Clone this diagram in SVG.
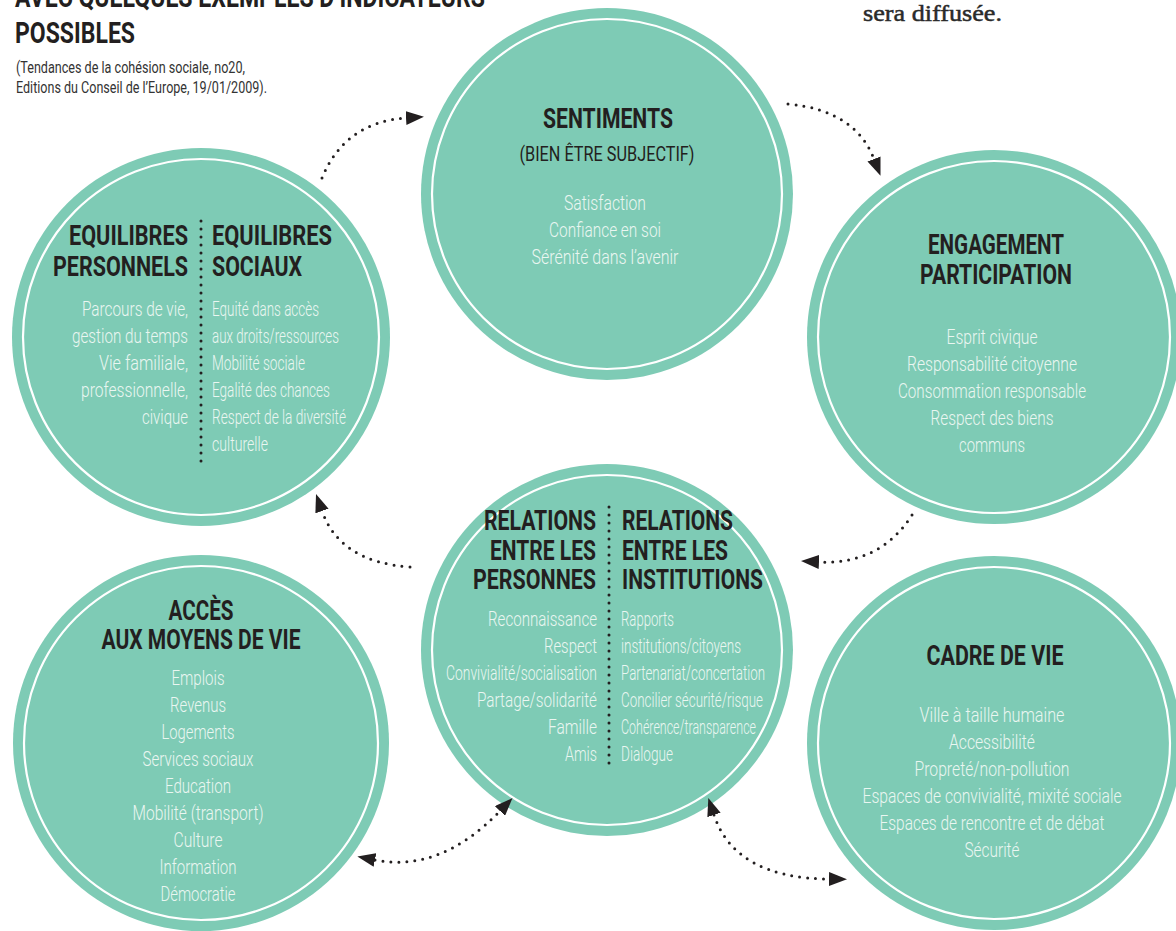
<svg xmlns="http://www.w3.org/2000/svg" width="1176" height="931" viewBox="0 0 1176 931">
<style>
.c{fill:#7ECBB5}
.ring{fill:none;stroke:#FFFFFF;stroke-width:2.2}
.t{font-family:Roboto,"Liberation Sans",sans-serif;font-weight:700;font-size:28px;fill:#231F20}
.s{font-family:Roboto,"Liberation Sans",sans-serif;font-weight:400;font-size:20px;fill:#231F20}
.b{font-family:Roboto,"Liberation Sans",sans-serif;font-weight:300;font-size:20px;fill:#EAF6F1}
.h{font-family:Roboto,"Liberation Sans",sans-serif;font-weight:700;font-size:30px;fill:#231F20}
.ref{font-family:Roboto,"Liberation Sans",sans-serif;font-weight:400;font-size:16px;fill:#333333}
.serif{font-family:"Liberation Serif",serif;font-size:24px;fill:#2A2A2A;stroke:#2A2A2A;stroke-width:0.5}
.dots{fill:none;stroke:#231F20;stroke-width:3;stroke-linecap:round;stroke-dasharray:0 8}
.m{text-anchor:middle}
.e{text-anchor:end}
</style>
<defs>
<marker id="ah" viewBox="0 0 18 14" refX="0" refY="7" markerWidth="18" markerHeight="14" markerUnits="userSpaceOnUse" orient="auto-start-reverse">
<path d="M0,0 L18,7 L0,14 Z" fill="#231F20"/>
</marker>
</defs>

<g id="header">
<text class="h" x="15" y="7" textLength="470" lengthAdjust="spacingAndGlyphs">AVEC QUELQUES EXEMPLES D’INDICATEURS</text>
<text class="h" x="15" y="43" textLength="120" lengthAdjust="spacingAndGlyphs">POSSIBLES</text>
<text class="ref" x="16" y="73" textLength="229" lengthAdjust="spacingAndGlyphs">(Tendances de la cohésion sociale, no20,</text>
<text class="ref" x="16" y="93" textLength="251" lengthAdjust="spacingAndGlyphs">Editions du Conseil de l’Europe, 19/01/2009).</text>
<text class="serif" x="863" y="21" textLength="139" lengthAdjust="spacingAndGlyphs">sera diffusée.</text>
</g>

<g id="node-sentiments">
<circle class="c" cx="607" cy="194" r="186"/>
<circle class="ring" cx="607" cy="194" r="175"/>
<text class="t m" x="608" y="128" textLength="130" lengthAdjust="spacingAndGlyphs">SENTIMENTS</text>
<text class="s m" x="607" y="161" textLength="175" lengthAdjust="spacingAndGlyphs">(BIEN ÊTRE SUBJECTIF)</text>
<text class="b m" x="605" y="210" textLength="82" lengthAdjust="spacingAndGlyphs">Satisfaction</text>
<text class="b m" x="605" y="237" textLength="112" lengthAdjust="spacingAndGlyphs">Confiance en soi</text>
<text class="b m" x="605" y="264" textLength="147" lengthAdjust="spacingAndGlyphs">Sérénité dans l’avenir</text>
</g>

<g id="node-equilibres">
<circle class="c" cx="201" cy="337" r="189"/>
<circle class="ring" cx="201" cy="337" r="178"/>
<line class="dots" x1="201" y1="221" x2="201" y2="463"/>
<text class="t e" x="188" y="245" textLength="119" lengthAdjust="spacingAndGlyphs">EQUILIBRES</text>
<text class="t e" x="188" y="276" textLength="135" lengthAdjust="spacingAndGlyphs">PERSONNELS</text>
<text class="t" x="212" y="245" textLength="120" lengthAdjust="spacingAndGlyphs">EQUILIBRES</text>
<text class="t" x="212" y="276" textLength="90" lengthAdjust="spacingAndGlyphs">SOCIAUX</text>
<text class="b e" x="188" y="316" textLength="106" lengthAdjust="spacingAndGlyphs">Parcours de vie,</text>
<text class="b e" x="188" y="343" textLength="116" lengthAdjust="spacingAndGlyphs">gestion du temps</text>
<text class="b e" x="188" y="370" textLength="89" lengthAdjust="spacingAndGlyphs">Vie familiale,</text>
<text class="b e" x="188" y="397" textLength="107" lengthAdjust="spacingAndGlyphs">professionnelle,</text>
<text class="b e" x="188" y="424" textLength="46" lengthAdjust="spacingAndGlyphs">civique</text>
<text class="b" x="212" y="316" textLength="107" lengthAdjust="spacingAndGlyphs">Equité dans accès</text>
<text class="b" x="212" y="343" textLength="127" lengthAdjust="spacingAndGlyphs">aux droits/ressources</text>
<text class="b" x="212" y="370" textLength="93" lengthAdjust="spacingAndGlyphs">Mobilité sociale</text>
<text class="b" x="212" y="397" textLength="118" lengthAdjust="spacingAndGlyphs">Egalité des chances</text>
<text class="b" x="212" y="424" textLength="134" lengthAdjust="spacingAndGlyphs">Respect de la diversité</text>
<text class="b" x="212" y="451" textLength="56" lengthAdjust="spacingAndGlyphs">culturelle</text>
</g>

<g id="node-engagement">
<circle class="c" cx="994" cy="337" r="187"/>
<circle class="ring" cx="994" cy="337" r="176"/>
<text class="t m" x="996" y="254" textLength="136" lengthAdjust="spacingAndGlyphs">ENGAGEMENT</text>
<text class="t m" x="996" y="284" textLength="152" lengthAdjust="spacingAndGlyphs">PARTICIPATION</text>
<text class="b m" x="992" y="344" textLength="91" lengthAdjust="spacingAndGlyphs">Esprit civique</text>
<text class="b m" x="992" y="371" textLength="170" lengthAdjust="spacingAndGlyphs">Responsabilité citoyenne</text>
<text class="b m" x="992" y="398" textLength="188" lengthAdjust="spacingAndGlyphs">Consommation responsable</text>
<text class="b m" x="992" y="425" textLength="123" lengthAdjust="spacingAndGlyphs">Respect des biens</text>
<text class="b m" x="992" y="452" textLength="66" lengthAdjust="spacingAndGlyphs">communs</text>
</g>

<g id="node-relations">
<circle class="c" cx="607" cy="650" r="186"/>
<circle class="ring" cx="607" cy="650" r="175"/>
<line class="dots" x1="609" y1="507" x2="609" y2="766"/>
<text class="t e" x="596" y="530" textLength="112" lengthAdjust="spacingAndGlyphs">RELATIONS</text>
<text class="t e" x="596" y="560" textLength="106" lengthAdjust="spacingAndGlyphs">ENTRE LES</text>
<text class="t e" x="596" y="589" textLength="123" lengthAdjust="spacingAndGlyphs">PERSONNES</text>
<text class="t" x="622" y="530" textLength="111" lengthAdjust="spacingAndGlyphs">RELATIONS</text>
<text class="t" x="622" y="560" textLength="106" lengthAdjust="spacingAndGlyphs">ENTRE LES</text>
<text class="t" x="622" y="589" textLength="141" lengthAdjust="spacingAndGlyphs">INSTITUTIONS</text>
<text class="b e" x="597" y="626" textLength="109" lengthAdjust="spacingAndGlyphs">Reconnaissance</text>
<text class="b e" x="597" y="653" textLength="53" lengthAdjust="spacingAndGlyphs">Respect</text>
<text class="b e" x="597" y="680" textLength="151" lengthAdjust="spacingAndGlyphs">Convivialité/socialisation</text>
<text class="b e" x="597" y="707" textLength="120" lengthAdjust="spacingAndGlyphs">Partage/solidarité</text>
<text class="b e" x="597" y="734" textLength="49" lengthAdjust="spacingAndGlyphs">Famille</text>
<text class="b e" x="597" y="761" textLength="32" lengthAdjust="spacingAndGlyphs">Amis</text>
<text class="b" x="621" y="626" textLength="53" lengthAdjust="spacingAndGlyphs">Rapports</text>
<text class="b" x="621" y="653" textLength="120" lengthAdjust="spacingAndGlyphs">institutions/citoyens</text>
<text class="b" x="621" y="680" textLength="144" lengthAdjust="spacingAndGlyphs">Partenariat/concertation</text>
<text class="b" x="621" y="707" textLength="142" lengthAdjust="spacingAndGlyphs">Concilier sécurité/risque</text>
<text class="b" x="621" y="734" textLength="135" lengthAdjust="spacingAndGlyphs">Cohérence/transparence</text>
<text class="b" x="621" y="761" textLength="52" lengthAdjust="spacingAndGlyphs">Dialogue</text>
</g>

<g id="node-acces">
<circle class="c" cx="201" cy="743" r="188"/>
<circle class="ring" cx="201" cy="743" r="177"/>
<text class="t m" x="201" y="620" textLength="65" lengthAdjust="spacingAndGlyphs">ACCÈS</text>
<text class="t m" x="201" y="649" textLength="199" lengthAdjust="spacingAndGlyphs">AUX MOYENS DE VIE</text>
<text class="b m" x="198" y="685" textLength="53" lengthAdjust="spacingAndGlyphs">Emplois</text>
<text class="b m" x="198" y="712" textLength="56" lengthAdjust="spacingAndGlyphs">Revenus</text>
<text class="b m" x="198" y="739" textLength="73" lengthAdjust="spacingAndGlyphs">Logements</text>
<text class="b m" x="198" y="766" textLength="111" lengthAdjust="spacingAndGlyphs">Services sociaux</text>
<text class="b m" x="198" y="793" textLength="66" lengthAdjust="spacingAndGlyphs">Education</text>
<text class="b m" x="198" y="820" textLength="131" lengthAdjust="spacingAndGlyphs">Mobilité (transport)</text>
<text class="b m" x="198" y="847" textLength="49" lengthAdjust="spacingAndGlyphs">Culture</text>
<text class="b m" x="198" y="874" textLength="77" lengthAdjust="spacingAndGlyphs">Information</text>
<text class="b m" x="198" y="901" textLength="75" lengthAdjust="spacingAndGlyphs">Démocratie</text>
</g>

<g id="node-cadre">
<circle class="c" cx="994" cy="743" r="187"/>
<circle class="ring" cx="994" cy="743" r="176"/>
<text class="t m" x="995" y="665" textLength="137" lengthAdjust="spacingAndGlyphs">CADRE DE VIE</text>
<text class="b m" x="992" y="722" textLength="145" lengthAdjust="spacingAndGlyphs">Ville à taille humaine</text>
<text class="b m" x="992" y="749" textLength="86" lengthAdjust="spacingAndGlyphs">Accessibilité</text>
<text class="b m" x="992" y="776" textLength="155" lengthAdjust="spacingAndGlyphs">Propreté/non-pollution</text>
<text class="b m" x="992" y="803" textLength="259" lengthAdjust="spacingAndGlyphs">Espaces de convivialité, mixité sociale</text>
<text class="b m" x="992" y="830" textLength="225" lengthAdjust="spacingAndGlyphs">Espaces de rencontre et de débat</text>
<text class="b m" x="992" y="857" textLength="55" lengthAdjust="spacingAndGlyphs">Sécurité</text>
</g>

<g id="connectors">
<path class="dots" d="M322,178 Q345,122 406,118" marker-end="url(#ah)"/>
<path class="dots" d="M788,104 Q855,110 874,159" marker-end="url(#ah)"/>
<path class="dots" d="M912,515 Q880,565 819,562" marker-end="url(#ah)"/>
<path class="dots" d="M410,567 Q340,562 322,511" marker-end="url(#ah)"/>
<path class="dots" d="M375,860 Q440,873 500,811" marker-start="url(#ah)" marker-end="url(#ah)"/>
<path class="dots" d="M714,815 Q735,878 829,879" marker-start="url(#ah)" marker-end="url(#ah)"/>
</g>
</svg>
